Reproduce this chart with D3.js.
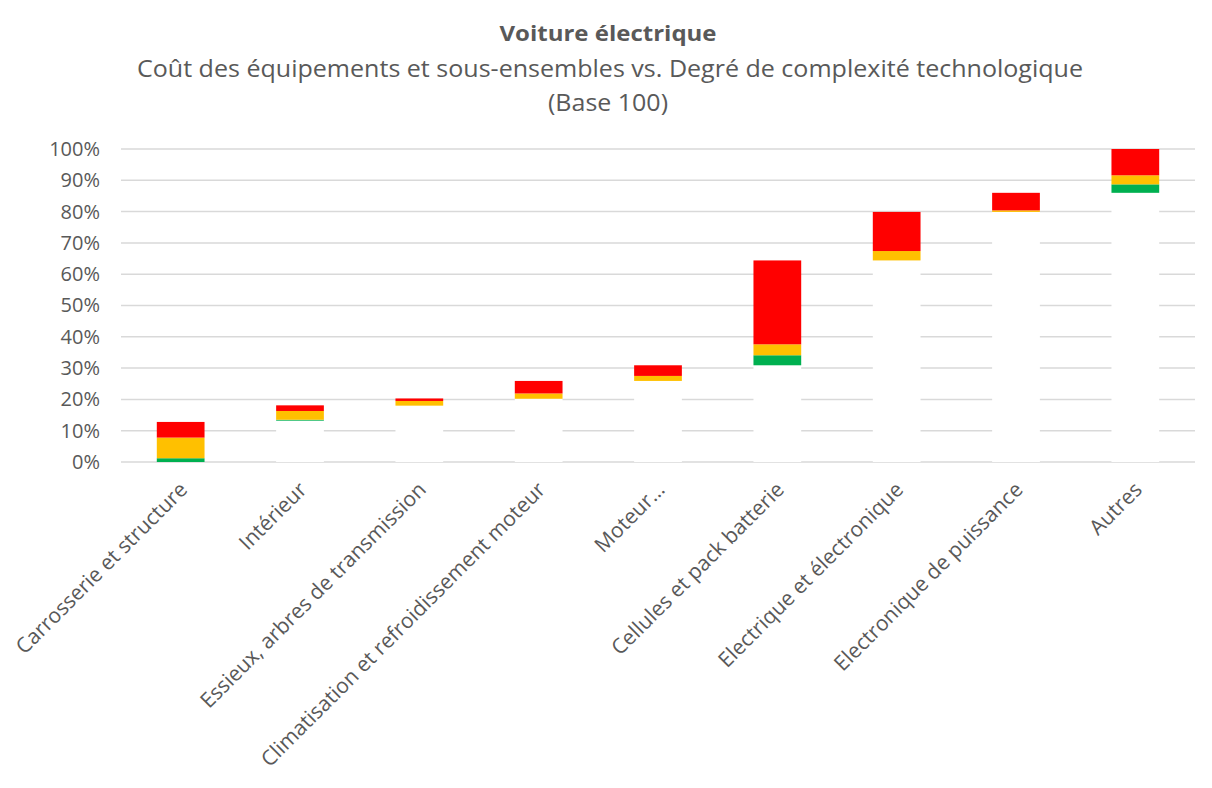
<!DOCTYPE html>
<html>
<head>
<meta charset="utf-8">
<script src="https://cdn.jsdelivr.net/npm/d3@7"></script>
<style>
  body { margin: 0; background: #fff; }
  text { font-family: "Open Sans", sans-serif; fill: #595959; }
</style>
</head>
<body>
<div id="content"></div>
<script>
(() => {
    // categories and stacked segments (in %, base segment is invisible/white)
    var categories = [
        "Carrosserie et structure",
        "Intérieur",
        "Essieux, arbres de transmission",
        "Climatisation et refroidissement moteur",
        "Moteur…",
        "Cellules et pack batterie",
        "Electrique et électronique",
        "Electronique de puissance",
        "Autres"
    ];
    var base = [0, 13.2, 18.0, 20.2, 25.9, 30.9, 64.4, 79.9, 86.0];
    var green = [1.2, 0.3, 0, 0, 0, 3.2, 0, 0, 2.7];
    var yellow = [6.6, 2.8, 1.5, 1.7, 1.6, 3.5, 3.0, 0.5, 2.9];
    var red = [5.0, 1.8, 0.8, 4.0, 3.4, 26.8, 12.5, 5.6, 8.4];
    var yTicks = [0, 10, 20, 30, 40, 50, 60, 70, 80, 90, 100];

    var keys = ["base", "green", "yellow", "red"];
    var colors = { base: "#ffffff", green: "#00B050", yellow: "#FFC000", red: "#FF0000" };

    var rows = categories.map(function (c, i) {
        return { cat: c, base: base[i], green: green[i], yellow: yellow[i], red: red[i] };
    });

    var W = 1212, H = 788;
    var margin = { top: 149, right: 17, bottom: 326, left: 121 };
    var width = W - margin.left - margin.right;
    var height = H - margin.top - margin.bottom;

    var svg = d3.select("#content").append("svg")
        .attr("width", W)
        .attr("height", H);

    // titles (Calibri-like text is wider, so stretch a bit)
    svg.append("text").attr("x", 608).attr("y", 41)
        .attr("text-anchor", "middle")
        .attr("textLength", 217).attr("lengthAdjust", "spacingAndGlyphs")
        .style("font-size", "22px").style("font-weight", "bold")
        .text("Voiture électrique");
    svg.append("text").attr("x", 610).attr("y", 77)
        .attr("text-anchor", "middle")
        .attr("textLength", 946).attr("lengthAdjust", "spacingAndGlyphs")
        .style("font-size", "23px")
        .text("Coût des équipements et sous-ensembles vs. Degré de complexité technologique");
    svg.append("text").attr("x", 608).attr("y", 111)
        .attr("text-anchor", "middle")
        .attr("textLength", 120).attr("lengthAdjust", "spacingAndGlyphs")
        .style("font-size", "23px")
        .text("(Base 100)");

    var g = svg.append("g")
        .attr("transform", "translate(" + margin.left + "," + margin.top + ")");

    var x = d3.scaleBand().domain(categories).range([0, width]).paddingInner(0.6).paddingOuter(0.3);
    var y = d3.scaleLinear().domain([0, 100]).range([height, 0]);

    // gridlines
    g.append("g").attr("class", "grid")
        .selectAll("line").data(yTicks).enter().append("line")
        .attr("x1", 0).attr("x2", width)
        .attr("y1", function (d) { return y(d); })
        .attr("y2", function (d) { return y(d); })
        .attr("stroke", "#d9d9d9").attr("stroke-width", 1.5);

    // y axis labels
    var yAxis = d3.axisLeft(y).tickValues(yTicks)
        .tickFormat(function (d) { return d + "%"; })
        .tickSize(0).tickPadding(21);
    var ya = g.append("g").call(yAxis);
    ya.select(".domain").remove();
    ya.selectAll("text").style("font-size", "20px").style("font-family", "'Open Sans', sans-serif").attr("fill", "#595959");

    // stacked bars
    var stack = d3.stack().keys(keys)(rows);
    g.append("g").selectAll("g").data(stack).enter().append("g")
        .attr("fill", function (d) { return colors[d.key]; })
        .selectAll("rect").data(function (d) { return d; }).enter().append("rect")
        .attr("x", function (d) { return x(d.data.cat); })
        .attr("width", x.bandwidth())
        .attr("y", function (d) { return y(d[1]); })
        .attr("height", function (d) { return y(d[0]) - y(d[1]); });

    // x labels, rotated
    g.append("g").selectAll("text").data(categories).enter().append("text")
        .attr("text-anchor", "end")
        .style("font-size", "21px")
        .attr("transform", function (d) {
            return "translate(" + (x(d) + x.bandwidth() / 2 + 8) + "," + (height + 29) + ") rotate(-45)";
        })
        .text(function (d) { return d; });
})();
</script>
</body>
</html>
